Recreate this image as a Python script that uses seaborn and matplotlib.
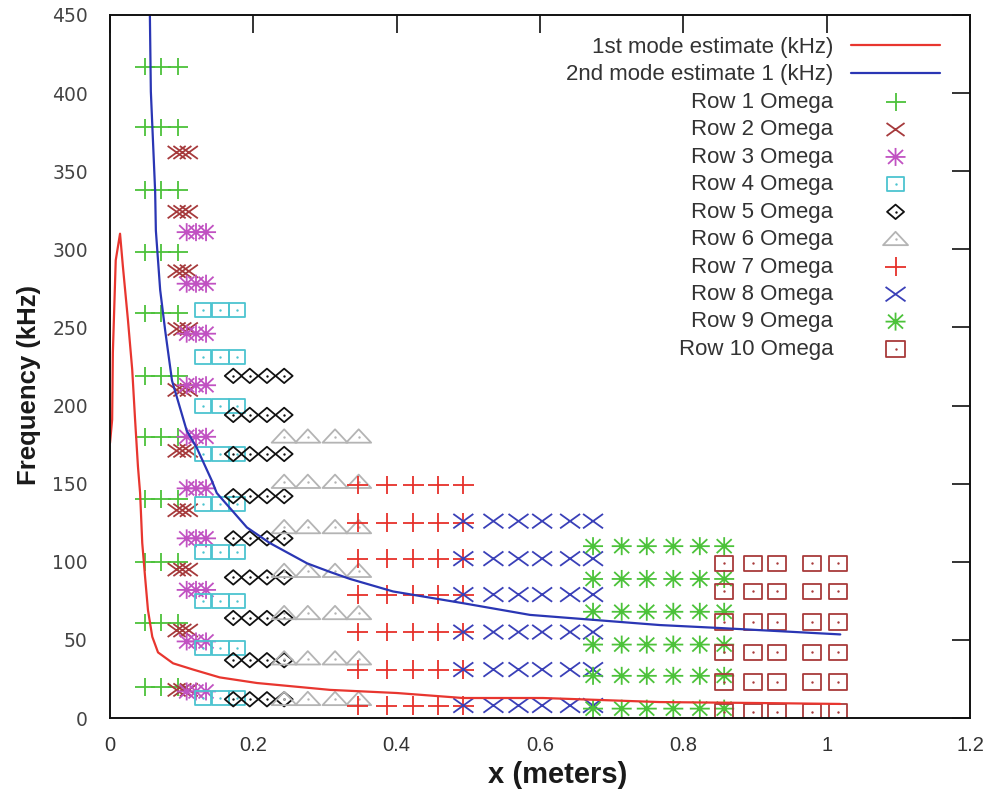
import numpy as np
import pandas as pd
import matplotlib
matplotlib.use("Agg")
import matplotlib.pyplot as plt
import seaborn as sns
from matplotlib.path import Path
from matplotlib.legend_handler import HandlerTuple

# ---------------- data ----------------
mode1_x = [0.0, 0.003, 0.004, 0.008, 0.014, 0.018, 0.025, 0.031, 0.035, 0.039, 0.042,
           0.045, 0.049, 0.053, 0.059, 0.067, 0.088, 0.116, 0.153, 0.205, 0.307, 0.40,
           0.4925, 0.604, 0.767, 0.903, 1.019]
mode1_y = [176, 191, 234, 293, 310, 289, 255, 223, 191, 161, 144,
           112, 90, 69, 52, 42, 35, 31, 26, 22.4, 18, 16,
           12.8, 12.8, 10.2, 9.6, 9.0]

mode2_x = [0.0555, 0.057, 0.063, 0.064, 0.070, 0.077, 0.0865, 0.107, 0.121, 0.142, 0.149,
           0.191, 0.223, 0.275, 0.307, 0.335, 0.395, 0.4925, 0.586, 0.767, 0.851, 1.019]
mode2_y = [455, 401, 337, 312, 274, 248, 216, 184, 173, 152, 144,
           122, 112, 99, 93.5, 89, 81, 73.5, 66, 59.5, 57.6, 53.5]

row_labels = ["Row 1 Omega", "Row 2 Omega", "Row 3 Omega", "Row 4 Omega", "Row 5 Omega",
              "Row 6 Omega", "Row 7 Omega", "Row 8 Omega", "Row 9 Omega", "Row 10 Omega"]

row1_x = [0.049, 0.071, 0.095]
row1_f = [20, 61, 100, 140, 180, 219, 259, 298, 338, 378, 417]
row2_x = [0.093, 0.101, 0.110]
row2_f = [18, 56, 95, 133, 171, 210, 249, 286, 324, 362]
row3_x = [0.107, 0.120, 0.134]
row3_f = [17, 49, 82, 115, 147, 180, 213, 246, 278, 311]
row4_x = [0.130, 0.154, 0.177]
row4_f = [13, 45, 75, 106, 137, 169, 200, 231, 261]
row5_x = [0.172, 0.195, 0.219, 0.243]
row5_f = [12, 37, 64, 90, 115, 142, 169, 194, 219]
row6_x = [0.243, 0.276, 0.314, 0.347]
row6_f = [12, 38, 67, 94, 122, 151, 180]
row7_x = [0.346, 0.386, 0.423, 0.458, 0.493]
row7_f = [8, 31, 55, 79, 102, 125, 149]
row8_x = [0.493, 0.535, 0.570, 0.603, 0.642, 0.674]
row8_f = [8, 31, 55, 79, 102, 126]
row9_x = [0.674, 0.714, 0.749, 0.786, 0.823, 0.857]
row9_f = [6, 27, 47, 68, 89, 110]
row10_x = [0.857, 0.897, 0.931, 0.980, 1.016]
row10_f = [4, 23, 42, 61.5, 81, 99]

rows_x = [row1_x, row2_x, row3_x, row4_x, row5_x, row6_x, row7_x, row8_x, row9_x, row10_x]
rows_f = [row1_f, row2_f, row3_f, row4_f, row5_f, row6_f, row7_f, row8_f, row9_f, row10_f]

# ---------------- styles ----------------
M, L = Path.MOVETO, Path.LINETO
plus_m = Path([(-1, 0), (1, 0), (0, -0.88), (0, 0.88)], [M, L, M, L])
x_m = Path([(-1, -0.72), (1, 0.72), (-1, 0.72), (1, -0.72)], [M, L, M, L])
ast_m = Path([(-1, 0), (1, 0), (0, -0.9), (0, 0.9),
              (-0.75, -0.7), (0.75, 0.7), (-0.75, 0.7), (0.75, -0.7)],
             [M, L, M, L, M, L, M, L])
sq_m = Path([(-1, -0.85), (1, -0.85), (1, 0.85), (-1, 0.85), (-1, -0.85)], closed=True)
dia_m = Path([(-1, 0), (0, 0.85), (1, 0), (0, -0.85), (-1, 0)], closed=True)
tri_m = Path([(-1, -0.47), (1, -0.47), (0, 0.6), (-1, -0.47)], closed=True)

row_colors = ["#4cc23a", "#a63a3c", "#c152c2", "#4cc4d0", "#111111",
              "#b4b4b4", "#e6302a", "#3a40b8", "#4cc23a", "#a83a3a"]
row_markers = [plus_m, x_m, ast_m, sq_m, dia_m, tri_m, plus_m, x_m, ast_m, sq_m]
row_sizes = [207, 168, 207, 140, 150, 324, 230, 207, 207, 170]
row_dot = [False, False, False, True, True, True, False, False, False, True]

frames = []
for lab, xs, fs in zip(row_labels, rows_x, rows_f):
    for f in fs:
        for x in xs:
            frames.append((lab, x, f))
df = pd.DataFrame(frames, columns=["row", "x", "f"])
df_m1 = pd.DataFrame({"x": mode1_x, "f": mode1_y})
df_m2 = pd.DataFrame({"x": mode2_x, "f": mode2_y})

# ---------------- figure ----------------
sns.set_theme(style="white")
plt.rcParams["font.family"] = ["Liberation Sans", "DejaVu Sans"]

fig = plt.figure(figsize=(9.93, 7.93), dpi=100)
ax = fig.add_axes([110 / 993, 75 / 793, 860 / 993, 703 / 793])

sns.lineplot(data=df_m1, x="x", y="f", ax=ax, color="#e8362f", linewidth=1.6,
             sort=False, estimator=None, label="1st mode estimate (kHz)")
sns.lineplot(data=df_m2, x="x", y="f", ax=ax, color="#2a36b4", linewidth=1.6,
             sort=False, estimator=None, label="2nd mode estimate 1 (kHz)")
line_handles = ax.get_lines()[:2]

handles = list(line_handles)
labels = ["1st mode estimate (kHz)", "2nd mode estimate 1 (kHz)"]
for lab, col, mk, sz, dot in zip(row_labels, row_colors, row_markers, row_sizes, row_dot):
    sub = df[df["row"] == lab]
    n0 = len(ax.collections)
    sns.scatterplot(data=sub, x="x", y="f", ax=ax, marker=mk, s=sz,
                    facecolor="none", edgecolor=col, linewidth=1.3, legend=False)
    hm = ax.collections[n0]
    if dot:
        sns.scatterplot(data=sub, x="x", y="f", ax=ax, marker="o", s=3,
                        color=col, edgecolor=col, linewidth=0, legend=False)
        hd = ax.collections[n0 + 1]
        handles.append((hm, hd))
    else:
        handles.append(hm)
    labels.append(lab)

ax.set_xlim(0, 1.2)
ax.set_ylim(0, 450)
ax.set_xticks([0, 0.2, 0.4, 0.6, 0.8, 1.0, 1.2])
ax.set_xticklabels(["0", "0.2", "0.4", "0.6", "0.8", "1", "1.2"])
ax.set_yticks(np.arange(0, 451, 50))

for sp in ax.spines.values():
    sp.set_color("#111111")
    sp.set_linewidth(1.4)

ax.tick_params(axis="both", direction="in", top=True, right=True,
               length=13, width=1.2, color="#111111")
ax.tick_params(axis="x", pad=13)
ax.tick_params(axis="y", pad=16)
for t in ax.get_xticklabels():
    t.set_fontfamily(["Liberation Sans", "DejaVu Sans"])
    t.set_fontsize(14.5)
    t.set_color("#333333")
for t in ax.get_yticklabels():
    t.set_fontfamily(["DejaVu Sans"])
    t.set_fontsize(13.5)
    t.set_color("#444444")

ax.set_xlabel("x (meters)", fontsize=21, fontweight="bold", color="#1a1a1a",
              fontfamily=["Liberation Sans", "DejaVu Sans"], labelpad=4, x=0.52)
ax.set_ylabel("Frequency (kHz)", fontsize=18.5, fontweight="bold", color="#1a1a1a",
              fontfamily=["Liberation Sans", "DejaVu Sans"], labelpad=8, y=0.474)

leg = ax.legend(handles, labels, handler_map={tuple: HandlerTuple(ndivide=1, pad=0)},
                loc="upper right", bbox_to_anchor=(0.9651, 0.9687),
                frameon=False, markerfirst=False, handlelength=4.0,
                handletextpad=0.8, labelspacing=0.29, borderpad=0, borderaxespad=0,
                scatterpoints=1, prop={"family": "Liberation Sans", "size": 16})
for t in leg.get_texts():
    t.set_color("#333333")

fig.savefig("out.png", dpi=100)
